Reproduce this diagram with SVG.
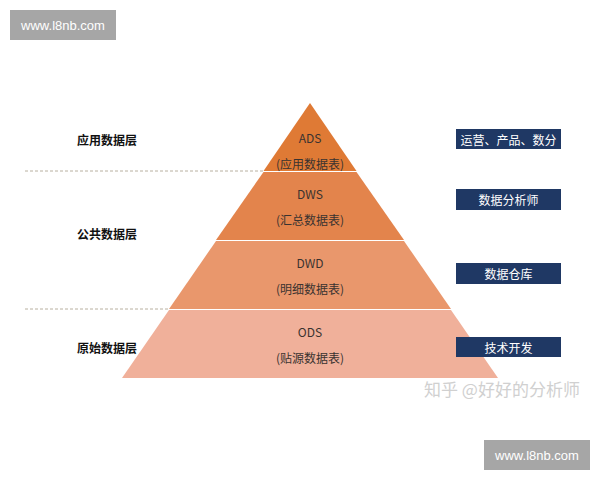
<svg xmlns="http://www.w3.org/2000/svg" width="600" height="480" viewBox="0 0 600 480">
<style>
.lbl{font-family:"Noto Sans CJK SC","Liberation Sans",sans-serif;font-size:12px;font-weight:bold;fill:#111;text-anchor:middle;dominant-baseline:central}
.in{font-family:"Noto Sans CJK SC","Liberation Sans",sans-serif;font-size:12px;fill:#3a3330;text-anchor:middle;dominant-baseline:central}
.box{fill:#1f3864}
.bt{font-family:"Noto Sans CJK SC","Liberation Sans",sans-serif;font-size:12px;fill:#ffffff;text-anchor:middle;dominant-baseline:central}
.wm{fill:#a6a6a6}
.wmt{font-family:"Liberation Sans",sans-serif;font-size:13px;fill:#ffffff;text-anchor:middle;dominant-baseline:central}
.dash{stroke:#b8b0a0;stroke-width:1;stroke-dasharray:3,2;fill:none}
</style>
<rect width="600" height="480" fill="#ffffff"/>
<g id="watermark-top"><rect class="wm" x="10" y="10" width="106" height="30"/><text class="wmt" x="63" y="25">www.l8nb.com</text></g>
<g id="watermark-bottom"><rect class="wm" x="484" y="440" width="106" height="30"/><text class="wmt" x="537" y="455">www.l8nb.com</text></g>
<g id="connectors">
<line class="dash" x1="25" y1="171" x2="264" y2="171"/>
<line class="dash" x1="25" y1="309" x2="169" y2="309"/>
</g>
<g id="ads"><polygon points="310,103 356.5,171 263.5,171" fill="#df7a35"/><text class="in" x="310" y="137">ADS</text><text class="in" x="310" y="163">(应用数据表)</text></g>
<g id="dws"><polygon points="263.5,172 356.5,172 404,240 216,240" fill="#e3844c"/><text class="in" x="310" y="193">DWS</text><text class="in" x="310" y="219">(汇总数据表)</text></g>
<g id="dwd"><polygon points="216,241 404,241 451,309 169,309" fill="#e9976c"/><text class="in" x="310" y="262">DWD</text><text class="in" x="310" y="288">(明细数据表)</text></g>
<g id="ods"><polygon points="169,310 451,310 498,378 122,378" fill="#f0b09a"/><text class="in" x="310" y="331">ODS</text><text class="in" x="310" y="357">(贴源数据表)</text></g>
<g id="layer-app"><text class="lbl" x="107" y="139">应用数据层</text></g>
<g id="layer-common"><text class="lbl" x="107" y="233">公共数据层</text></g>
<g id="layer-raw"><text class="lbl" x="107" y="347">原始数据层</text></g>
<g id="role-ops"><rect class="box" x="456" y="129" width="105" height="20"/><text class="bt" x="508.5" y="139">运营、产品、数分</text></g>
<g id="role-analyst"><rect class="box" x="456" y="189" width="105" height="21"/><text class="bt" x="508.5" y="199.5">数据分析师</text></g>
<g id="role-dw"><rect class="box" x="456" y="263" width="105" height="21"/><text class="bt" x="508.5" y="273.5">数据仓库</text></g>
<g id="role-dev"><rect class="box" x="456" y="337" width="105" height="20"/><text class="bt" x="508.5" y="347">技术开发</text></g>
<text x="502" y="388" font-family="Noto Sans CJK SC,Liberation Sans,sans-serif" font-size="17" fill="#d0d0d0" text-anchor="middle" dominant-baseline="central">知乎 @好好的分析师</text>
</svg>
